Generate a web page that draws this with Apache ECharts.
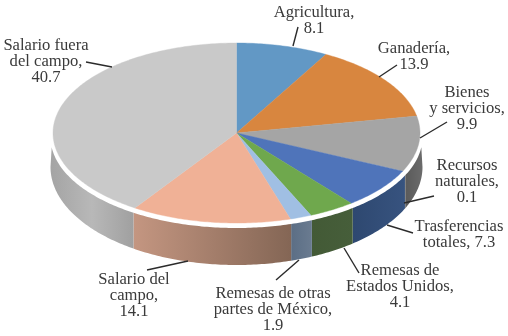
<!DOCTYPE html>
<html><head><meta charset="utf-8">
<style>html,body{margin:0;padding:0;background:#fff}#c{width:508px;height:336px}</style>
<script src="https://cdn.jsdelivr.net/npm/echarts@6/dist/echarts.min.js"></script>
</head><body><div id="c"></div>
<script>
var categories = ['Agricultura','Ganadería','Bienes y servicios','Recursos naturales','Trasferencias totales','Remesas de Estados Unidos','Remesas de otras partes de México','Salario del campo','Salario fuera del campo'];
var values = [8.1,13.9,9.9,0.1,7.3,4.1,1.9,14.1,40.7];
var labelTexts = ['Agricultura,\n8.1','Ganadería,\n13.9','Bienes\ny servicios,\n9.9','Recursos\nnaturales,\n0.1','Trasferencias\ntotales, 7.3','Remesas de\nEstados Unidos,\n4.1','Remesas de otras\npartes de México,\n1.9','Salario del\ncampo,\n14.1','Salario fuera\ndel campo,\n40.7'];

var topColors = ['#6298c5','#d8863f','#a5a5a5','#a5a5a5','#4f74ba','#6fa84d','#a0bfe3','#f0b196','#c9c9c9'];
var wallStops = [
  ['#3f6a90','#3f6a90'],['#9a5f2d','#9a5f2d'],
  ['#5a5a5a','#6b6b6b'],['#5a5a5a','#5a5a5a'],
  ['#2e4870','#37537f'],['#435a36','#465e3a'],
  ['#5b6e85','#6a7b90'],['#c49681','#846655'],
  ['#a4a4a4','#b8b8b8','#a0a0a0']
];
// [text centre x, first-line top y]
var labelPos = [[314,4],[414,40],[467,84],[467,157],[459,218],[400,262],[273,285],[134,271],[46,37]];
// leader line [x1,y1,x2,y2]
var leaders = [[298,27,293,46],[397,65,379,77],[447,122,420,138],[434,196,404,203],[413,233,387,225],[359,273,344,248],[276,280,299,260],[147,270,188,261],[86,62,112,67]];

var CX=236.5, TOP={cy:133,rx:183.5,ry:90}, WT={cy:137,rx:186,ry:91}, WB={cy:167,rx:186,ry:98};
var total = values.reduce(function(a,b){return a+b;},0);
var cum = [0]; values.forEach(function(v,i){cum.push(cum[i]+v);});
function pt(E,t){return [CX+E.rx*Math.sin(t), E.cy-E.ry*Math.cos(t)];}
function arc(E,a,b){var n=Math.max(2,Math.ceil(Math.abs(b-a)/0.015)),o=[];for(var i=0;i<=n;i++)o.push(pt(E,a+(b-a)*i/n));return o;}
var R=Math.PI/180;

var chart = echarts.init(document.getElementById('c'),null,{renderer:'canvas'});
chart.setOption({
  animation:false,
  series:[{
    type:'custom',
    coordinateSystem:'none',
    silent:true,
    data:values.map(function(v,i){return {name:categories[i],value:[v,i]};}),
    renderItem:function(params,api){
      var i=api.value(1), a=cum[i]/total*2*Math.PI, b=cum[i+1]/total*2*Math.PI, kids=[];
      var lo=Math.max(a,90*R), hi=Math.min(b,270*R);
      if(hi>lo){
        var tlo=Math.max(lo,96.5*R), thi=Math.min(hi,263.5*R);
        var pts=arc(WT,tlo,thi).concat(arc(WB,lo,hi).reverse());
        var st=wallStops[i], stops=st.map(function(c,k){return {offset:k/(st.length-1),color:c};});
        kids.push({type:'polygon',z2:1,shape:{points:pts},style:{fill:new echarts.graphic.LinearGradient(0,0,1,0,stops)}});
      }
      var top=[[CX,TOP.cy]].concat(arc(TOP,a,b));
      kids.push({type:'polygon',z2:2,shape:{points:top},style:{fill:topColors[i],stroke:topColors[i],lineWidth:0.4}});
      var l=leaders[i];
      kids.push({type:'line',z2:3,shape:{x1:l[0],y1:l[1],x2:l[2],y2:l[3]},style:{stroke:'#2b2b2b',lineWidth:1.4}});
      kids.push({type:'text',z2:4,style:{text:labelTexts[i],x:labelPos[i][0],y:labelPos[i][1],align:'center',verticalAlign:'top',font:'16.6px "Liberation Serif"',lineHeight:16.3,fill:'#3a3a3a'}});
      return {type:'group',children:kids};
    }
  }]
});
</script></body></html>
